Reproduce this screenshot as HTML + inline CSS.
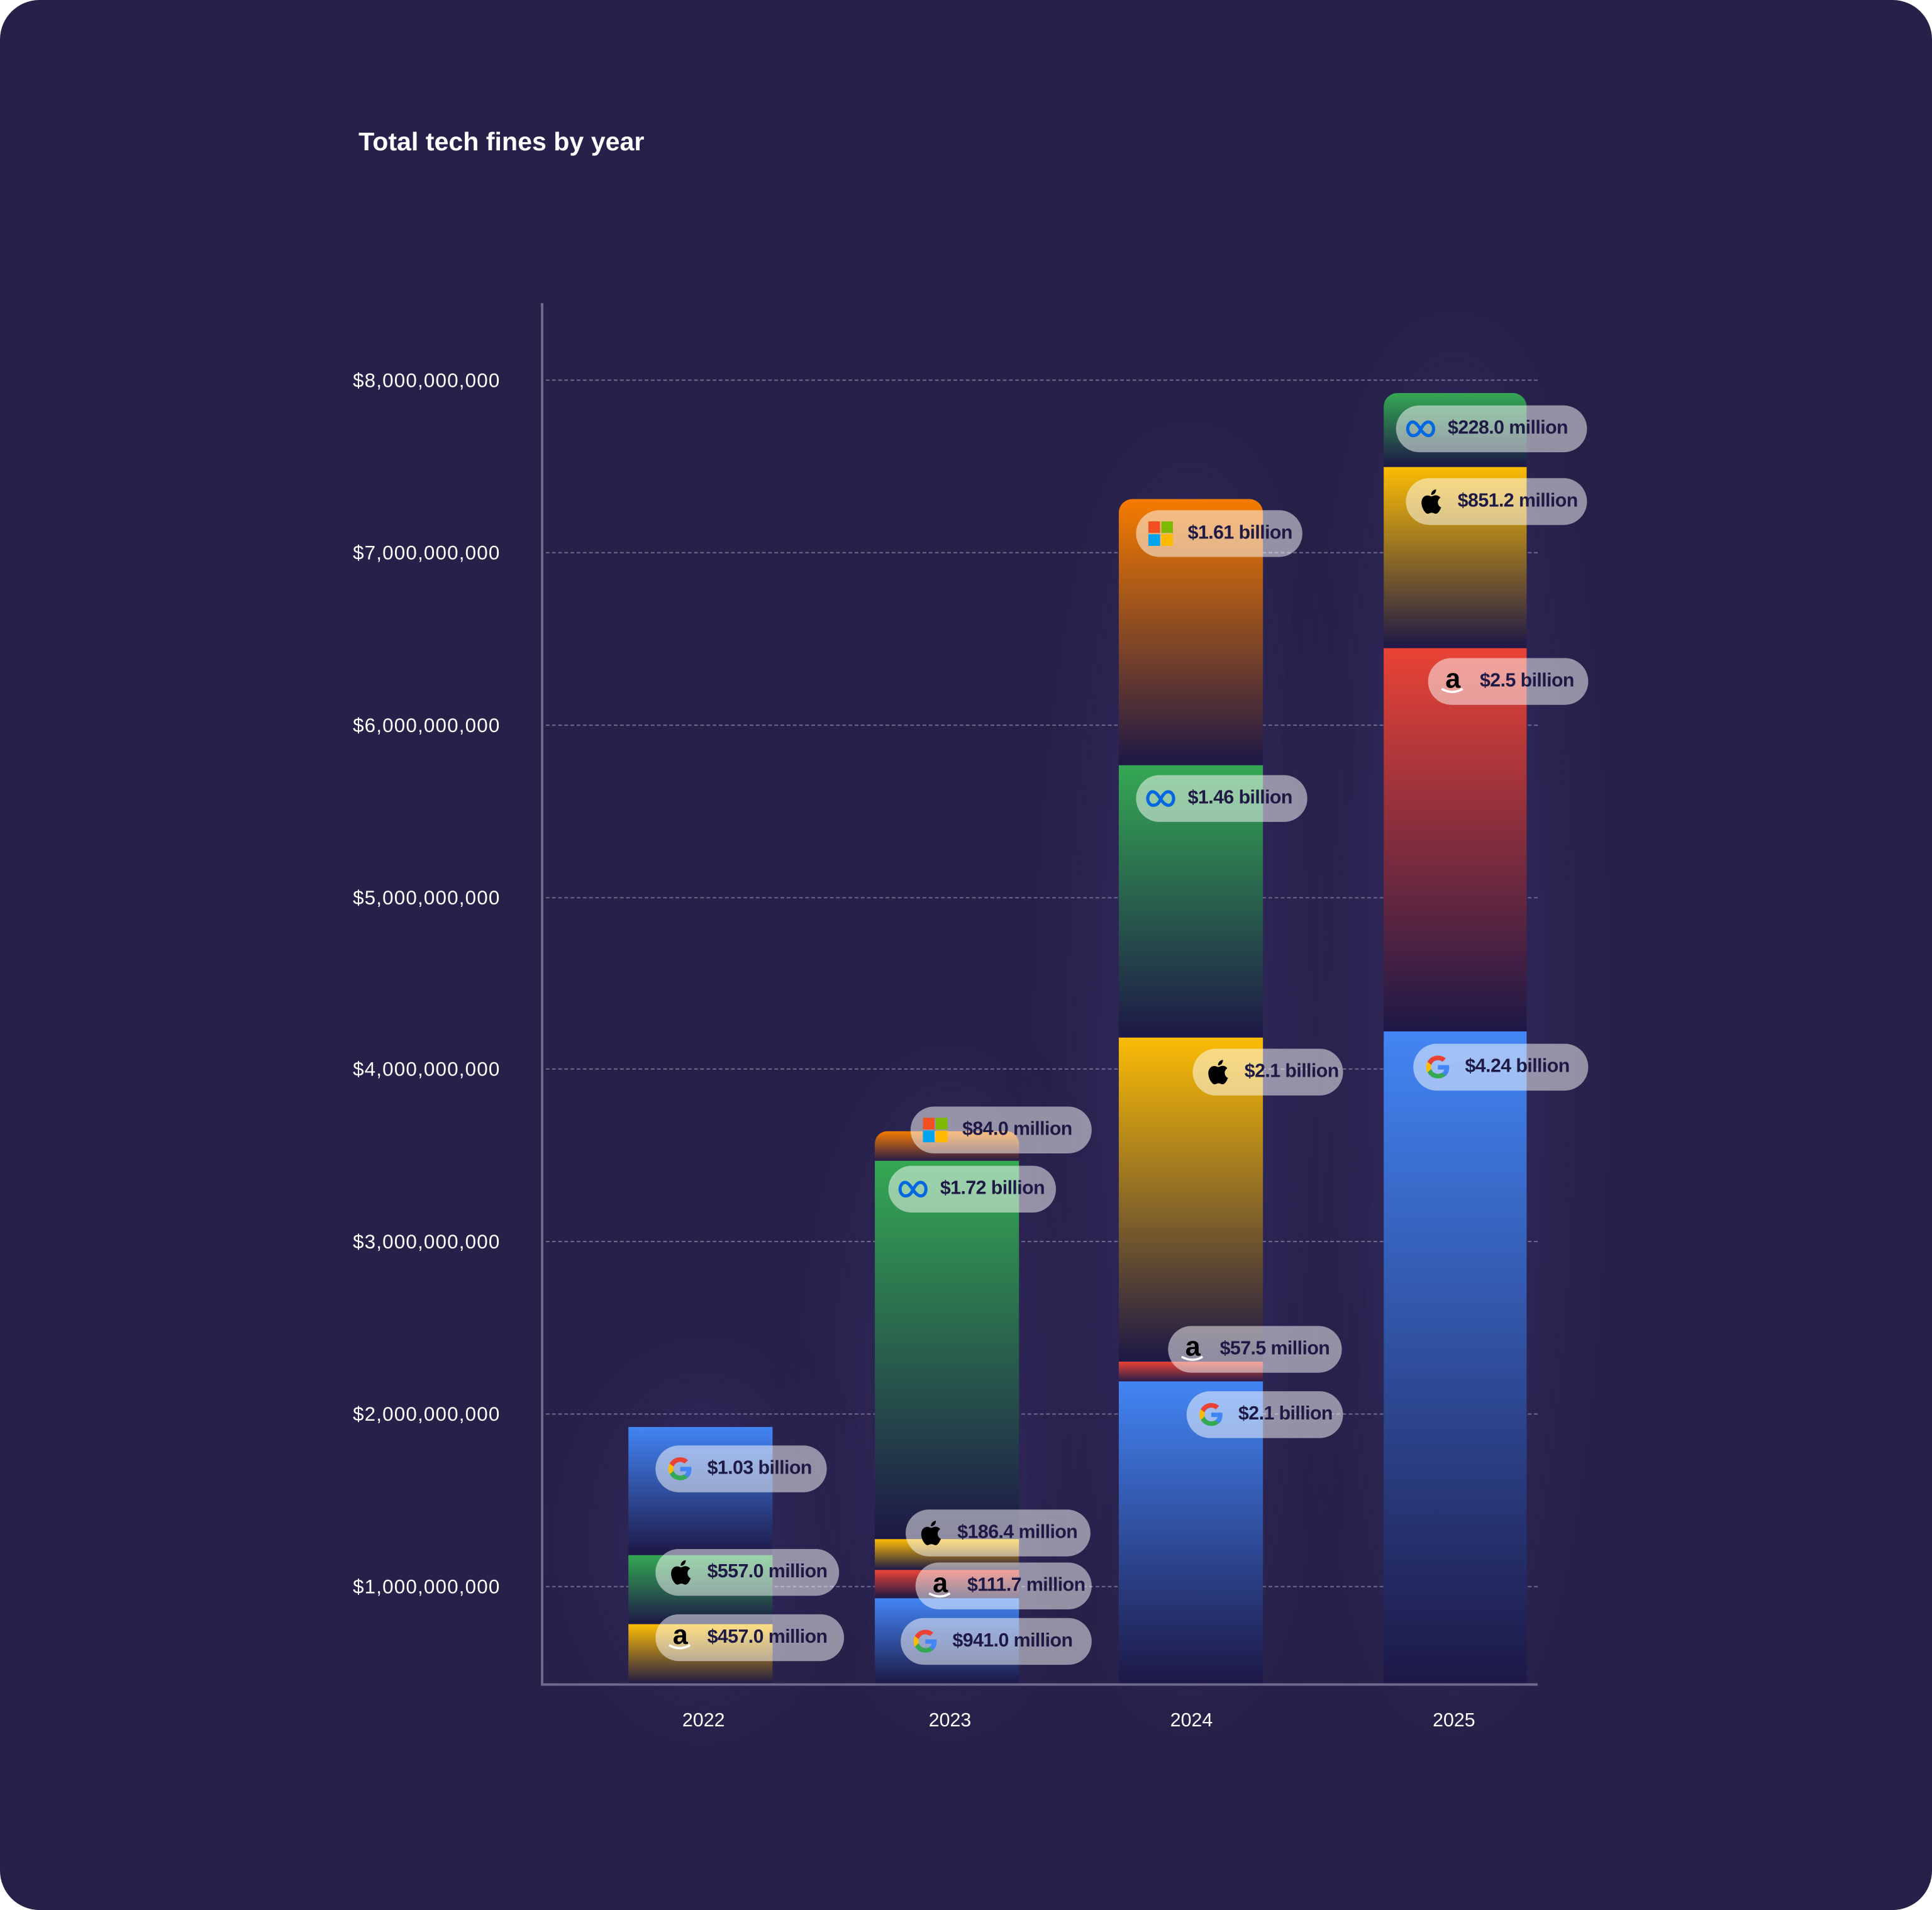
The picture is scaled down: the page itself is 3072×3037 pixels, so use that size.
<!DOCTYPE html>
<html><head><meta charset="utf-8"><style>
html,body{margin:0;padding:0;background:#fff;}
body{width:3072px;height:3037px;overflow:hidden;}
#s{position:absolute;left:0;top:0;width:1568px;height:1550px;transform:scale(1.9592,1.9594);transform-origin:0 0;}
#card{position:absolute;left:0;top:0;width:1568px;height:1550px;background:#272149;border-radius:32px;overflow:hidden;font-family:"Liberation Sans",sans-serif;}
.glow{position:absolute;border-radius:50%;background:rgba(70,55,130,0.25);filter:blur(30px);}
.t{position:absolute;color:#fff;font-size:15.5px;}
.yl{position:absolute;right:1162px;color:#fff;font-size:16px;letter-spacing:0.6px;transform:translateY(-50%);white-space:nowrap;margin-top:2px;}
.grid{position:absolute;left:443px;width:805px;height:0;border-top:1.5px dashed #6e6a8e;}
.seg{position:absolute;}
.pill{position:absolute;height:38px;border-radius:19px;background:rgba(255,255,255,0.5);display:flex;align-items:center;box-sizing:border-box;padding:0 0 0 8px;color:#1f1a45;font-weight:bold;font-size:15.5px;letter-spacing:-0.3px;white-space:nowrap;transform:translateY(-50%);}
.ic{width:24px;height:24px;margin-right:10px;display:flex;align-items:center;justify-content:center;flex:none;}
.yr{position:absolute;top:1388px;color:#fff;font-size:15.5px;transform:translateX(-50%);}
</style></head><body><div id="s"><div id="card">
<div class="glow" style="left:490px;top:1120px;width:160px;height:260px"></div>
<div class="glow" style="left:690px;top:880px;width:160px;height:500px"></div>
<div class="glow" style="left:880px;top:370px;width:170px;height:1010px"></div>
<div class="glow" style="left:1095px;top:280px;width:170px;height:1100px"></div>

<div class="t" style="left:291px;top:104px;font-size:21px;font-weight:bold">Total tech fines by year</div>

<div class="grid" style="top:308px"></div><div class="grid" style="top:448px"></div>
<div class="grid" style="top:588px"></div><div class="grid" style="top:728px"></div>
<div class="grid" style="top:867px"></div><div class="grid" style="top:1007px"></div>
<div class="grid" style="top:1147px"></div><div class="grid" style="top:1287px"></div>
<div class="yl" style="top:308px">$8,000,000,000</div>
<div class="yl" style="top:448px">$7,000,000,000</div>
<div class="yl" style="top:588px">$6,000,000,000</div>
<div class="yl" style="top:728px">$5,000,000,000</div>
<div class="yl" style="top:867px">$4,000,000,000</div>
<div class="yl" style="top:1007px">$3,000,000,000</div>
<div class="yl" style="top:1147px">$2,000,000,000</div>
<div class="yl" style="top:1287px">$1,000,000,000</div>

<!-- 2022 -->
<div class="seg" style="left:510px;width:117px;top:1158px;height:104px;background:linear-gradient(#4285f4,#1d1846)"></div>
<div class="seg" style="left:510px;width:117px;top:1262px;height:56px;background:linear-gradient(#34a853,#1d1846)"></div>
<div class="seg" style="left:510px;width:117px;top:1318px;height:49px;background:linear-gradient(#fbbc05,#1d1846)"></div>
<!-- 2023 -->
<div class="seg" style="left:710px;width:117px;top:918px;height:24px;border-radius:10px 10px 0 0;background:linear-gradient(#f57c00,#2a1c48)"></div>
<div class="seg" style="left:710px;width:117px;top:942px;height:307px;background:linear-gradient(#34a853,#1d1846)"></div>
<div class="seg" style="left:710px;width:117px;top:1249px;height:25px;background:linear-gradient(#fbbc05,#1d1846)"></div>
<div class="seg" style="left:710px;width:117px;top:1274px;height:23px;background:linear-gradient(#ea4335,#1d1846)"></div>
<div class="seg" style="left:710px;width:117px;top:1297px;height:70px;background:linear-gradient(#4285f4,#1d1846)"></div>
<!-- 2024 -->
<div class="seg" style="left:908px;width:117px;top:405px;height:216px;border-radius:11px 11px 0 0;background:linear-gradient(#f57c00,#1d1846)"></div>
<div class="seg" style="left:908px;width:117px;top:621px;height:221px;background:linear-gradient(#34a853,#1d1846)"></div>
<div class="seg" style="left:908px;width:117px;top:842px;height:263px;background:linear-gradient(#fbbc05,#1d1846)"></div>
<div class="seg" style="left:908px;width:117px;top:1105px;height:16px;background:linear-gradient(#ea4335,#2a1c48)"></div>
<div class="seg" style="left:908px;width:117px;top:1121px;height:246px;background:linear-gradient(#4285f4,#1d1846)"></div>
<!-- 2025 -->
<div class="seg" style="left:1123px;width:116px;top:319px;height:60px;border-radius:11px 11px 0 0;background:linear-gradient(#34a853,#1d1846)"></div>
<div class="seg" style="left:1123px;width:116px;top:379px;height:147px;background:linear-gradient(#fbbc05,#1d1846)"></div>
<div class="seg" style="left:1123px;width:116px;top:526px;height:311px;background:linear-gradient(#ea4335,#1d1846)"></div>
<div class="seg" style="left:1123px;width:116px;top:837px;height:530px;background:linear-gradient(#4285f4,#1d1846)"></div>

<div style="position:absolute;left:439px;top:246px;width:2px;height:1122px;background:#6e6a8e"></div>
<div style="position:absolute;left:439px;top:1366px;width:809px;height:2px;background:#6e6a8e"></div>

<!-- 2022 pills -->
<div class="pill" style="left:532px;width:139px;top:1192px"><span class="ic"><svg width="22" height="22" viewBox="0 0 24 24"><path d="M22 12.2c0-.7-.1-1.4-.2-2H12v3.9h5.6c-.3 1.3-1 2.4-2.1 3.1v2.6h3.4c2-1.8 3.1-4.5 3.1-7.6z" fill="#4285f4"/><path d="M12 22c2.8 0 5.2-.9 6.9-2.5l-3.4-2.6c-.9.6-2.1 1-3.5 1-2.7 0-5-1.8-5.8-4.3H2.7v2.7C4.400 19.7 7.900 22 12 22z" fill="#34a853"/><path d="M6.2 13.600c-.2-.6-.3-1.200-.3-1.800s.1-1.200.3-1.800V7.300H2.700C2 8.700 1.600 10.300 1.600 12s.4 3.300 1.100 4.700z" fill="#fbbc05"/><path d="M12 5.800c1.500 0 2.900.5 4 1.500l3-3C17.200 2.700 14.800 1.700 12 1.700 7.900 1.700 4.400 4 2.700 7.300l3.500 2.700C7 7.600 9.300 5.800 12 5.800z" fill="#ea4335"/></svg></span>$1.03 billion</div>
<div class="pill" style="left:532px;width:149px;top:1276px"><span class="ic"><svg width="20" height="22" viewBox="0 0 20 24"><path d="M16.5 12.7c0-2.700 2.200-4 2.300-4.100-1.300-1.800-3.200-2.100-3.900-2.100-1.700-.2-3.200 1-4.100 1-.9 0-2.100-1-3.500-.9C5.500 6.600 3.800 7.700 2.900 9.300c-1.900 3.300-.5 8.100 1.300 10.800.9 1.300 2 2.800 3.400 2.700 1.400-.1 1.900-.9 3.500-.9s2.100.9 3.500.9c1.500 0 2.400-1.300 3.300-2.600 1-1.500 1.400-3 1.500-3-.1 0-2.800-1.100-2.900-4.500zM13.800 4.700c.7-.9 1.300-2.200 1.100-3.500-1.100.1-2.400.7-3.200 1.600-.7.800-1.300 2.100-1.100 3.300 1.200.1 2.400-.6 3.200-1.400z" fill="#000"/></svg></span>$557.0 million</div>
<div class="pill" style="left:532px;width:153px;top:1329px"><span class="ic" style="flex-direction:column;font-size:22px;font-weight:bold;color:#000;line-height:18px">a<svg width="20" height="6" viewBox="0 0 20 6" style="margin-top:-2px"><path d="M1 1 Q10 6 18 1" stroke="#fff" stroke-width="1.8" fill="none"/></svg></span>$457.0 million</div>

<!-- 2023 -->
<div class="pill" style="left:739px;width:147px;top:917px"><span class="ic"><svg width="20" height="20" viewBox="0 0 20 20"><rect x="0" y="0" width="9.500" height="9.500" fill="#f25022"/><rect x="10.500" y="0" width="9.500" height="9.500" fill="#7fba00"/><rect x="0" y="10.500" width="9.500" height="9.500" fill="#00a4ef"/><rect x="10.500" y="10.500" width="9.500" height="9.500" fill="#ffb900"/></svg></span>$84.0 million</div>
<div class="pill" style="left:721px;width:136px;top:965px"><span class="ic"><svg width="24" height="14" viewBox="0 0 24 14"><path d="M6 12.500C3 12.500 1.500 9.500 1.500 7S3 1.500 5.500 1.500C8 1.500 10 4.500 12 7.500S16 12.500 18.500 12.500 22.500 9.500 22.500 7 21 1.500 18 1.500C15.500 1.500 13.500 4.500 12 7.500S9 12.500 6 12.500z" stroke="#0668e1" stroke-width="2.600" fill="none"/></svg></span>$1.72 billion</div>
<div class="pill" style="left:735px;width:150px;top:1244px"><span class="ic"><svg width="20" height="22" viewBox="0 0 20 24"><path d="M16.5 12.700c0-2.700 2.200-4 2.300-4.100-1.300-1.800-3.200-2.100-3.900-2.100-1.700-.2-3.200 1-4.100 1-.9 0-2.100-1-3.500-.9C5.500 6.600 3.800 7.700 2.900 9.300c-1.900 3.300-.5 8.100 1.300 10.800.9 1.300 2 2.800 3.400 2.700 1.400-.1 1.900-.9 3.500-.9s2.100.9 3.500.9c1.500 0 2.400-1.300 3.300-2.600 1-1.500 1.400-3 1.500-3-.1 0-2.800-1.100-2.900-4.500zM13.800 4.700c.7-.9 1.300-2.200 1.100-3.500-1.100.1-2.400.7-3.200 1.600-.7.800-1.300 2.100-1.100 3.300 1.200.1 2.400-.6 3.200-1.400z" fill="#000"/></svg></span>$186.4 million</div>
<div class="pill" style="left:743px;width:143px;top:1287px"><span class="ic" style="flex-direction:column;font-size:22px;font-weight:bold;color:#000;line-height:18px">a<svg width="20" height="6" viewBox="0 0 20 6" style="margin-top:-2px"><path d="M1 1 Q10 6 18 1" stroke="#fff" stroke-width="1.800" fill="none"/></svg></span>$111.7 million</div>
<div class="pill" style="left:731px;width:155px;top:1332px"><span class="ic"><svg width="22" height="22" viewBox="0 0 24 24"><path d="M22 12.200c0-.7-.1-1.400-.2-2H12v3.900h5.600c-.3 1.300-1 2.400-2.100 3.100v2.600h3.400c2-1.800 3.100-4.500 3.100-7.600z" fill="#4285f4"/><path d="M12 22c2.800 0 5.200-.9 6.900-2.500l-3.400-2.600c-.9.600-2.100 1-3.500 1-2.700 0-5-1.800-5.800-4.300H2.700v2.700C4.400 19.700 7.900 22 12 22z" fill="#34a853"/><path d="M6.200 13.600c-.2-.6-.3-1.200-.3-1.800s.1-1.200.3-1.800V7.300H2.700C2 8.700 1.600 10.300 1.600 12s.4 3.300 1.100 4.700z" fill="#fbbc05"/><path d="M12 5.800c1.500 0 2.900.5 4 1.500l3-3C17.200 2.700 14.800 1.700 12 1.700 7.900 1.700 4.400 4 2.700 7.300l3.500 2.700C7 7.600 9.300 5.800 12 5.800z" fill="#ea4335"/></svg></span>$941.0 million</div>

<!-- 2024 -->
<div class="pill" style="left:922px;width:135px;top:433px"><span class="ic"><svg width="20" height="20" viewBox="0 0 20 20"><rect x="0" y="0" width="9.500" height="9.500" fill="#f25022"/><rect x="10.500" y="0" width="9.500" height="9.500" fill="#7fba00"/><rect x="0" y="10.500" width="9.500" height="9.500" fill="#00a4ef"/><rect x="10.500" y="10.500" width="9.500" height="9.500" fill="#ffb900"/></svg></span>$1.61 billion</div>
<div class="pill" style="left:922px;width:139px;top:648px"><span class="ic"><svg width="24" height="14" viewBox="0 0 24 14"><path d="M6 12.500C3 12.500 1.500 9.500 1.500 7S3 1.500 5.500 1.500C8 1.500 10 4.500 12 7.500S16 12.500 18.500 12.500 22.500 9.500 22.500 7 21 1.500 18 1.500C15.500 1.500 13.500 4.500 12 7.500S9 12.500 6 12.500z" stroke="#0668e1" stroke-width="2.600" fill="none"/></svg></span>$1.46 billion</div>
<div class="pill" style="left:968px;width:122px;top:870px"><span class="ic"><svg width="20" height="22" viewBox="0 0 20 24"><path d="M16.5 12.700c0-2.700 2.200-4 2.300-4.100-1.300-1.800-3.200-2.100-3.900-2.100-1.700-.2-3.200 1-4.100 1-.9 0-2.100-1-3.500-.9C5.500 6.600 3.800 7.700 2.900 9.300c-1.900 3.300-.5 8.100 1.300 10.800.9 1.300 2 2.800 3.400 2.700 1.400-.1 1.900-.9 3.500-.9s2.100.9 3.500.9c1.500 0 2.400-1.300 3.300-2.600 1-1.500 1.400-3 1.500-3-.1 0-2.800-1.100-2.900-4.500zM13.800 4.700c.7-.9 1.300-2.200 1.100-3.500-1.100.1-2.400.7-3.200 1.600-.7.800-1.300 2.100-1.100 3.300 1.200.1 2.400-.6 3.200-1.400z" fill="#000"/></svg></span>$2.1 billion</div>
<div class="pill" style="left:948px;width:141px;top:1095px"><span class="ic" style="flex-direction:column;font-size:22px;font-weight:bold;color:#000;line-height:18px">a<svg width="20" height="6" viewBox="0 0 20 6" style="margin-top:-2px"><path d="M1 1 Q10 6 18 1" stroke="#fff" stroke-width="1.800" fill="none"/></svg></span>$57.5 million</div>
<div class="pill" style="left:963px;width:127px;top:1148px"><span class="ic"><svg width="22" height="22" viewBox="0 0 24 24"><path d="M22 12.200c0-.7-.1-1.400-.2-2H12v3.900h5.600c-.3 1.300-1 2.400-2.100 3.100v2.600h3.400c2-1.800 3.100-4.500 3.100-7.600z" fill="#4285f4"/><path d="M12 22c2.800 0 5.200-.9 6.900-2.500l-3.400-2.600c-.9.600-2.100 1-3.500 1-2.700 0-5-1.800-5.800-4.300H2.700v2.700C4.400 19.700 7.900 22 12 22z" fill="#34a853"/><path d="M6.200 13.600c-.2-.6-.3-1.200-.3-1.800s.1-1.200.3-1.800V7.300H2.700C2 8.700 1.600 10.300 1.600 12s.4 3.300 1.100 4.700z" fill="#fbbc05"/><path d="M12 5.800c1.500 0 2.900.5 4 1.500l3-3C17.200 2.700 14.800 1.700 12 1.700 7.900 1.700 4.400 4 2.700 7.300l3.500 2.700C7 7.600 9.300 5.800 12 5.800z" fill="#ea4335"/></svg></span>$2.1 billion</div>

<!-- 2025 -->
<div class="pill" style="left:1133px;width:155px;top:348px"><span class="ic"><svg width="24" height="14" viewBox="0 0 24 14"><path d="M6 12.500C3 12.500 1.500 9.500 1.500 7S3 1.500 5.500 1.500C8 1.500 10 4.500 12 7.500S16 12.500 18.500 12.500 22.500 9.500 22.500 7 21 1.500 18 1.500C15.500 1.500 13.500 4.500 12 7.500S9 12.500 6 12.500z" stroke="#0668e1" stroke-width="2.600" fill="none"/></svg></span>$228.0 million</div>
<div class="pill" style="left:1141px;width:147px;top:407px"><span class="ic"><svg width="20" height="22" viewBox="0 0 20 24"><path d="M16.5 12.700c0-2.700 2.200-4 2.300-4.100-1.300-1.800-3.200-2.100-3.900-2.100-1.700-.2-3.200 1-4.100 1-.9 0-2.100-1-3.500-.9C5.500 6.600 3.800 7.700 2.900 9.300c-1.900 3.300-.5 8.100 1.300 10.800.9 1.300 2 2.800 3.400 2.700 1.400-.1 1.900-.9 3.500-.9s2.100.9 3.500.9c1.500 0 2.400-1.300 3.300-2.600 1-1.500 1.400-3 1.500-3-.1 0-2.800-1.100-2.900-4.500zM13.800 4.700c.7-.9 1.300-2.200 1.100-3.500-1.100.1-2.400.7-3.200 1.600-.7.800-1.300 2.100-1.100 3.300 1.200.1 2.400-.6 3.200-1.400z" fill="#000"/></svg></span>$851.2 million</div>
<div class="pill" style="left:1159px;width:130px;top:553px"><span class="ic" style="flex-direction:column;font-size:22px;font-weight:bold;color:#000;line-height:18px">a<svg width="20" height="6" viewBox="0 0 20 6" style="margin-top:-2px"><path d="M1 1 Q10 6 18 1" stroke="#fff" stroke-width="1.800" fill="none"/></svg></span>$2.5 billion</div>
<div class="pill" style="left:1147px;width:142px;top:866px"><span class="ic"><svg width="22" height="22" viewBox="0 0 24 24"><path d="M22 12.200c0-.7-.1-1.400-.2-2H12v3.900h5.600c-.3 1.300-1 2.400-2.100 3.100v2.600h3.400c2-1.800 3.100-4.500 3.100-7.600z" fill="#4285f4"/><path d="M12 22c2.800 0 5.200-.9 6.900-2.500l-3.400-2.600c-.9.600-2.100 1-3.500 1-2.700 0-5-1.800-5.800-4.300H2.700v2.700C4.400 19.700 7.900 22 12 22z" fill="#34a853"/><path d="M6.200 13.600c-.2-.6-.3-1.200-.3-1.800s.1-1.200.3-1.800V7.300H2.700C2 8.700 1.600 10.300 1.600 12s.4 3.300 1.100 4.700z" fill="#fbbc05"/><path d="M12 5.800c1.500 0 2.900.5 4 1.500l3-3C17.200 2.700 14.800 1.700 12 1.700 7.900 1.700 4.400 4 2.700 7.300l3.500 2.700C7 7.600 9.300 5.800 12 5.800z" fill="#ea4335"/></svg></span>$4.24 billion</div>

<div class="yr" style="left:571px">2022</div>
<div class="yr" style="left:771px">2023</div>
<div class="yr" style="left:967px">2024</div>
<div class="yr" style="left:1180px">2025</div>
</div></div></body></html>
